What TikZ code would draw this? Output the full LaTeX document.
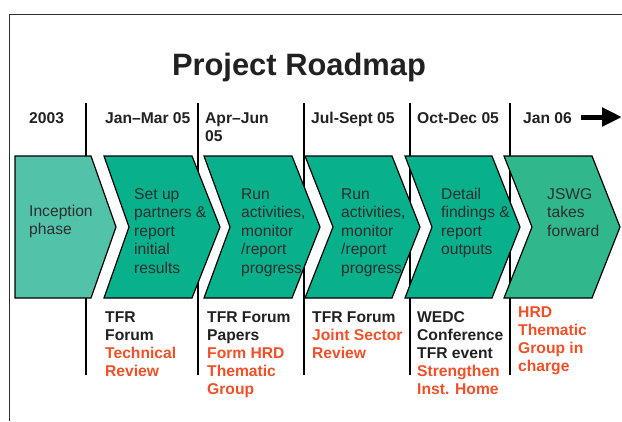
\documentclass[tikz,border=0pt]{standalone}
\usepackage{fontspec}
\setmainfont{Liberation Sans}
\usetikzlibrary{arrows.meta}

\definecolor{incep}{HTML}{52C2A8}
\definecolor{teal}{HTML}{08B08C}
\definecolor{jswg}{HTML}{30B88C}
\definecolor{roadred}{HTML}{F05028}
\definecolor{ink}{HTML}{2E2E2E}

\begin{document}
\begin{tikzpicture}[x = 1bp, y = -1bp,
		chev/.style = {draw = black, line width = 1.2bp, line join = miter},
		period/.style = {anchor = base west, inner sep = 0pt, align = left, text = black!87, font = \fontsize{15.7}{18.5}\selectfont\bfseries},
		phase/.style = {anchor = base west, inner sep = 0pt, align = left, text = ink, font = \fontsize{15.7}{18.5}\selectfont},
		event/.style = {anchor = base west, inner sep = 0pt, align = left, text = black!87, font = \fontsize{15.7}{18}\selectfont\bfseries}]
					\useasboundingbox (0, 0) rectangle (622, 421);

					\coordinate (f1) at (9.5, 421);
					\coordinate (f2) at (9.5, 14);
					\coordinate (f3) at (622, 14);

					\coordinate (t1) at (86, 103);
					\coordinate (t2) at (198, 103);
					\coordinate (t3) at (304, 103);
					\coordinate (t4) at (410, 103);
					\coordinate (t5) at (510, 103);

					\coordinate (b1) at (86, 375);
					\coordinate (b2) at (198, 375);
					\coordinate (b3) at (304, 375);
					\coordinate (b4) at (410, 375);
					\coordinate (b5) at (510, 375);

					\draw [line width = 1bp, draw = ink] (f1) -- (f2) -- (f3);

					\draw [line width = 1.5bp] (t1) -- (b1);
					\draw [line width = 1.5bp] (t2) -- (b2);
					\draw [line width = 1.5bp] (t3) -- (b3);
					\draw [line width = 1.5bp] (t4) -- (b4);
					\draw [line width = 1.5bp] (t5) -- (b5);

					\draw [chev, fill = incep] (15, 156) -- (91, 156) -- (116, 227) -- (91, 298) -- (15, 298) -- cycle;
					\draw [chev, fill = teal] (104, 156) -- (192, 156) -- (220, 227) -- (192, 298) -- (104, 298) -- (129, 227) -- cycle;
					\draw [chev, fill = teal] (204, 156) -- (292, 156) -- (320, 227) -- (292, 298) -- (204, 298) -- (230, 227) -- cycle;
					\draw [chev, fill = teal] (305, 156) -- (392, 156) -- (420, 227) -- (392, 298) -- (305, 298) -- (333, 227) -- cycle;
					\draw [chev, fill = teal] (405, 156) -- (492, 156) -- (520, 227) -- (492, 298) -- (405, 298) -- (432, 227) -- cycle;
					\draw [chev, fill = jswg] (504, 156) -- (592, 156) -- (620, 227) -- (592, 298) -- (504, 298) -- (532, 227) -- cycle;

					\node [anchor = base, inner sep = 0pt, text = black!87, font = \fontsize{31}{36}\selectfont\bfseries] (title) at (299, 75) {Project Roadmap};

					\node [period] (d1) at (29, 123) {2003};
					\node [period] (d2) at (105, 123) {Jan–Mar 05};
					\node [period] (d3) at (205, 141.5) {Apr–Jun\\05};
					\node [period] (d4) at (311, 123) {Jul-Sept 05};
					\node [period] (d5) at (417, 123) {Oct-Dec 05};
					\node [period] (d6) at (523, 123) {Jan 06};

					\coordinate (a1) at (581, 117);
					\coordinate (a2) at (622, 117);
					\draw [line width = 5bp, -{Triangle[length = 20bp, width = 18bp]}] (a1) -- (a2);

					\node [phase] (p1) at (29, 234.5) {Inception\\phase};
					\node [phase] (p2) at (134, 273) {Set up\\partners \&\\report\\initial\\results};
					\node [phase] (p3) at (241, 273) {Run\\activities,\\monitor\\/report\\progress};
					\node [phase] (p4) at (341, 273) {Run\\activities,\\monitor\\/report\\progress};
					\node [phase] (p5) at (441, 254.5) {Detail\\findings \&\\report\\outputs};
					\node [phase] (p6) at (547, 236) {JSWG\\takes\\forward};

					\node [event] (e2) at (105, 376) {TFR\\Forum\\\textcolor{roadred}{Technical}\\\textcolor{roadred}{Review}};
					\node [event] (e3) at (207, 394) {TFR Forum\\Papers\\\textcolor{roadred}{Form HRD}\\\textcolor{roadred}{Thematic}\\\textcolor{roadred}{Group}};
					\node [event] (e4) at (312, 358) {TFR Forum\\\textcolor{roadred}{Joint Sector}\\\textcolor{roadred}{Review}};
					\node [event] (e5) at (417, 394) {WEDC\\Conference\\TFR event\\\textcolor{roadred}{Strengthen}\\\textcolor{roadred}{Inst. Home}};
					\node [event, text = roadred] (e6) at (518, 371) {HRD\\Thematic\\Group in\\charge};
				\end{tikzpicture}
\end{document}
